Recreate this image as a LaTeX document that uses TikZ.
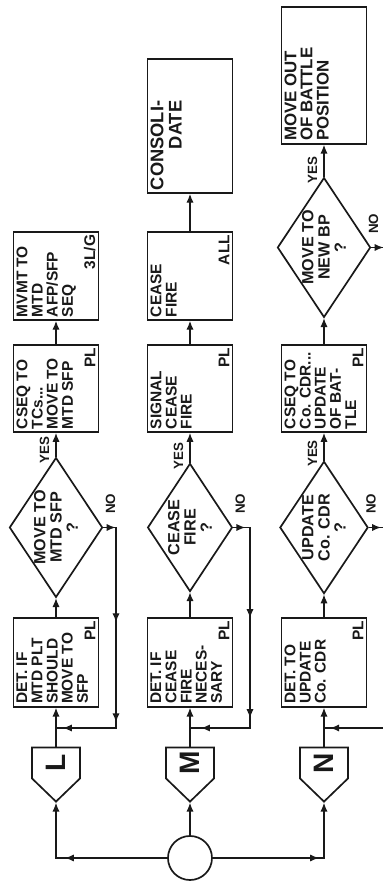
\documentclass[tikz,border=0pt]{standalone}
\usepackage{fontspec}
\setmainfont{Liberation Sans}
\usetikzlibrary{arrows.meta,positioning,shapes.geometric,shapes.symbols,decorations.markings}
\definecolor{ink}{RGB}{25,25,25}
\newcommand{\boxfont}{\fontsize{11}{10.8}\selectfont\bfseries}
\newcommand{\askfont}{\fontsize{11.5}{11.5}\selectfont\bfseries}
\tikzset{
  act/.style={draw=ink,line width=1.2pt,minimum height=2.12cm,inner sep=0pt},
  ask/.style={draw=ink,line width=1.2pt,diamond,aspect=1.5,minimum width=3.2cm,
    minimum height=2.12cm,inner sep=0pt,align=center,font=\askfont,text=ink},
  tab/.style={draw=ink,line width=1.2pt,signal,signal to=west,signal pointer angle=92,
    minimum width=1.35cm,minimum height=1.2cm,inner sep=0pt,
    font=\fontsize{20}{20}\selectfont\bfseries,text=ink},
  hub/.style={circle,draw=ink,line width=1.2pt,minimum size=1.1cm,inner sep=0pt},
  txt/.style={anchor=north west,align=left,inner sep=2.5pt,font=\boxfont,text=ink},
  tag/.style={anchor=south east,inner sep=2.5pt,font=\boxfont,text=ink},
  yeslbl/.style={anchor=south,inner sep=1pt,font=\fontsize{9.5}{10}\selectfont\bfseries,text=ink},
  nolbl/.style={anchor=west,inner sep=1pt,font=\fontsize{9.5}{10}\selectfont\bfseries,text=ink},
  line/.style={line width=0.9pt,ink},
  arr/.style={line,-{Latex[length=2.2mm,width=1.8mm]}},
  arrowat/.style={postaction={decorate,decoration={markings,
    mark=at position #1 with {\arrow{Latex[length=2.2mm,width=1.8mm]}}}}},
}

\begin{document}
\begin{tikzpicture}[x=0.025cm,y=0.025cm]
\begin{scope}[rotate=90,transform shape]
\useasboundingbox (0,0) rectangle (883,383);
\clip (0,0) rectangle (883,383);
\fill[white] (0,0) rectangle (883,383);

% start and the three rows
\node[hub] (c) at (25,193) {};
\foreach \r/\v/\q in {L/327/{MOVE TO\\MTD SFP\\?},M/193/{CEASE\\FIRE\\?},N/59/{UPDATE\\Co. CDR\\?}}{
  \node[tab] (p\r) at (120,\v) {\r};
  \node[act,minimum width=2.22cm] (b\r1) at (220.5,\v) {};
  \node[ask] (d\r1) at (355.5,\v) {\q};
  \node[act,minimum width=2.18cm] (b\r2) at (494.5,\v) {};
}
\node[act,minimum width=2.2cm] (bL3) at (607,327) {};
\node[act,minimum width=2.2cm] (bM3) at (607,193) {};
\node[act,minimum width=3.35cm] (bM4) at (757,193) {};
\node[ask,minimum width=3.12cm] (dN2) at (635.5,59) {MOVE TO\\NEW BP\\?};
\node[act,minimum width=3.42cm] (bN3) at (807.5,59) {};

% box texts
\node[txt] (tL1) at (bL1.north west) {DET. IF\\MTD PLT\\SHOULD\\MOVE TO\\SFP};
\node[tag] (gL1) at (bL1.south east) {PL};
\node[txt] (tM1) at (bM1.north west) {DET. IF\\CEASE\\FIRE\\NECES-\\SARY};
\node[tag] (gM1) at (bM1.south east) {PL};
\node[txt] (tN1) at (bN1.north west) {DET. TO\\UPDATE\\Co. CDR};
\node[tag] (gN1) at (bN1.south east) {PL};
\node[txt] (tL2) at (bL2.north west) {CSEQ TO\\TCs...\\MOVE TO\\MTD SFP};
\node[tag] (gL2) at (bL2.south east) {PL};
\node[txt] (tM2) at (bM2.north west) {SIGNAL\\CEASE\\FIRE};
\node[tag] (gM2) at (bM2.south east) {PL};
\node[txt] (tN2) at (bN2.north west) {CSEQ TO\\Co. CDR...\\UPDATE\\OF BAT-\\TLE};
\node[tag] (gN2) at (bN2.south east) {PL};
\node[txt] (tL3) at (bL3.north west) {MVMT TO\\MTD\\AFP/SFP\\SEQ};
\node[tag] (gL3) at (bL3.south east) {3L/G};
\node[txt] (tM3) at (bM3.north west) {CEASE\\FIRE};
\node[tag] (gM3) at (bM3.south east) {ALL};
\node[txt,align=right,font=\fontsize{13}{13}\selectfont\bfseries] (tM4) at (bM4.north west) {CONSOLI-\\DATE};
\node[txt,font=\fontsize{12}{11.5}\selectfont\bfseries] (tN3) at (bN3.north west) {MOVE OUT\\OF BATTLE\\POSITION};

% feed from the start
\coordinate (kL) at (25,327);
\coordinate (kN) at (25,59);
\draw[arr] (c.east) -- (pM.west);
\draw[arr,arrowat=2.55cm] (c.north) -- (kL) -- (pL.west);
\draw[arr,arrowat=2.65cm] (c.south) -- (kN) -- (pN.west);

% main flow
\foreach \r in {L,M,N}{
  \draw[arr] (p\r.east) -- (b\r1.west);
  \draw[arr] (b\r1.east) -- (d\r1.west);
  \draw[arr] (d\r1.east) -- (b\r2.west);
}
\draw[arr] (bL2.east) -- (bL3.west);
\draw[arr] (bM2.east) -- (bM3.west);
\draw[arr] (bM3.east) -- (bM4.west);
\draw[arr] (bN2.east) -- (dN2.west);
\draw[arr] (dN2.east) -- (bN3.west);

% NO loops back to the row start
\foreach \r/\v/\w/\e in {L/327/267/6.65cm,M/193/133/6.65cm,N/59/-10/7.18cm}{
  \coordinate (n\r) at (355.5,\w);
  \coordinate (m\r) at (155,\w);
  \coordinate (j\r) at (155,\v);
  \draw[line,arrowat=0.3cm,arrowat=2.68cm,arrowat=5.18cm,arrowat=\e]
    (d\r1.south) -- (n\r) -- (m\r) -- (j\r);
}
\coordinate (oN) at (635.5,-10);
\draw[line,arrowat=0.3cm] (dN2.south) -- (oN);

% YES / NO
\foreach \d/\s in {dL1/-7,dM1/-7,dN1/-2,dN2/-2}{
  \node[yeslbl] (y\d) at ([shift={(7,5)}]\d.east) {YES};
  \node[nolbl] (n\d) at ([shift={(12,\s)}]\d.south) {NO};
}
\end{scope}
\end{tikzpicture}
\end{document}
